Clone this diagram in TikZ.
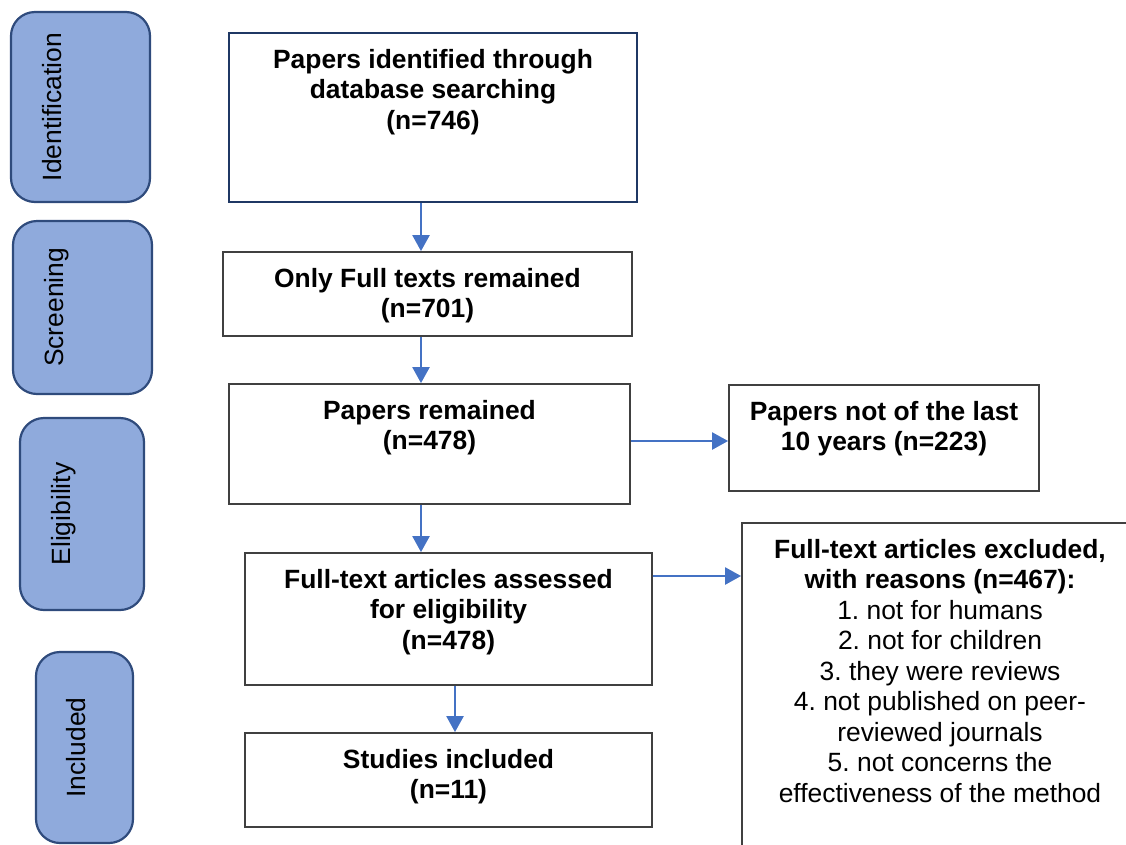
\documentclass[tikz,border=0pt]{standalone}
\usepackage{fontspec}
\setmainfont{Liberation Sans}
\usetikzlibrary{positioning}
\usetikzlibrary{arrows.meta}
\frenchspacing

\definecolor{azulfase}{HTML}{8FAADC}
\definecolor{bordafase}{HTML}{2F4B7C}
\definecolor{azulseta}{HTML}{4472C4}
\definecolor{azulescuro}{HTML}{1F3864}
\definecolor{cinza}{HTML}{404040}

\begin{document}
\begin{tikzpicture}[x=1pt, y=-1pt]

    % Área total da figura (em pixels da imagem)
    \useasboundingbox (0,0) rectangle (1126,844);

    % Estilo das fases (caixas arredondadas à esquerda)
    \tikzstyle{fase} = [
      draw=bordafase, fill=azulfase, rectangle, rounded corners=24pt,
      line width=2.2pt
    ];

    % Estilo das caixas do fluxo
    \tikzstyle{caixa} = [
      draw=cinza, fill=white, rectangle, line width=1.8pt
    ];

    % Estilo dos textos
    \tikzstyle{texto} = [
      align=center, inner sep=0pt,
      font=\fontsize{26.4pt}{30.5pt}\selectfont
    ];

    % Estilo das setas
    \tikzstyle{setas} = [
      draw=azulseta, line width=2.4pt, -{Triangle[length=16pt,width=17pt]}
    ];

    % Fases: nome/centro x/centro y/largura/altura/x do texto/rótulo
    \foreach \nome/\cx/\cy/\w/\h/\tx/\rot in {
        fid/80.5/107/139/190/52/Identification,
        fscr/82.5/307.5/139/173/57/Screening,
        fele/82/514/124/192/63.5/Eligibility,
        finc/84.5/747.5/97/191/76.5/Included}
    {
      \node[fase, minimum width=\w pt, minimum height=\h pt] (\nome) at (\cx,\cy) {};
      \node[texto, rotate=90] (r\nome) at (\tx,\cy) {\rot};
    }

    % Caixa inicial (busca nas bases)
    \node[caixa, draw=azulescuro, line width=2.4pt,
      minimum width=408pt, minimum height=169pt] (b1) at (433,117.5) {};
    \node[texto, below=17pt of b1.north] (t1)
      {\textbf{Papers identified through}\\ \textbf{database searching}\\ \textbf{(n=746)}};

    % Triagem
    \node[caixa, minimum width=409pt, minimum height=84pt] (b2) at (427.5,294) {};
    \node[texto, below=17pt of b2.north] (t2)
      {\textbf{Only Full texts remained}\\ \textbf{(n=701)}};

    % Elegibilidade
    \node[caixa, minimum width=401pt, minimum height=120pt] (b3) at (429.5,444) {};
    \node[texto, below=17pt of b3.north] (t3)
      {\textbf{Papers remained}\\ \textbf{(n=478)}};

    \node[caixa, minimum width=310pt, minimum height=106pt] (r1) at (884,438) {};
    \node[texto, below=17pt of r1.north] (tr1)
      {\textbf{Papers not of the last}\\ \textbf{10 years (n=223)}};

    \node[caixa, minimum width=407pt, minimum height=132pt] (b4) at (448.5,619) {};
    \node[texto, below=17pt of b4.north] (t4)
      {\textbf{Full-text articles assessed}\\ \textbf{for eligibility}\\ \textbf{(n=478)}};

    % Caixa dos excluídos (sai da figura)
    \node[caixa, minimum width=396pt, minimum height=357pt] (r2) at (940,701.5) {};
    \node[texto, below=17pt of r2.north] (tr2)
      {\textbf{Full-text articles excluded,}\\ \textbf{with reasons (n=467):}\\
       1. not for humans\\ 2. not for children\\ 3. they were reviews\\
       4. not published on peer-\\ reviewed journals\\ 5. not concerns the\\
       effectiveness of the method};

    % Incluídos
    \node[caixa, minimum width=407pt, minimum height=94pt] (b5) at (448.5,780) {};
    \node[texto, below=17pt of b5.north] (t5)
      {\textbf{Studies included}\\ \textbf{(n=11)}};

    % Setas entre as caixas
    \draw[setas] ([xshift=-12pt]b1.south) -- ([xshift=-12pt]b1.south |- b2.north);
    \draw[setas] ([xshift=-6.5pt]b2.south) -- ([xshift=-6.5pt]b2.south |- b3.north);
    \draw[setas] ([yshift=3pt]b3.east) -- ([yshift=3pt]b3.east -| r1.west);
    \draw[setas] ([xshift=-8.5pt]b3.south) -- ([xshift=-8.5pt]b3.south |- b4.north);
    \draw[setas] ([yshift=43pt]b4.east) -- ([yshift=43pt]b4.east -| r2.west);
    \draw[setas] ([xshift=6.5pt]b4.south) -- ([xshift=6.5pt]b4.south |- b5.north);

\end{tikzpicture}
\end{document}
